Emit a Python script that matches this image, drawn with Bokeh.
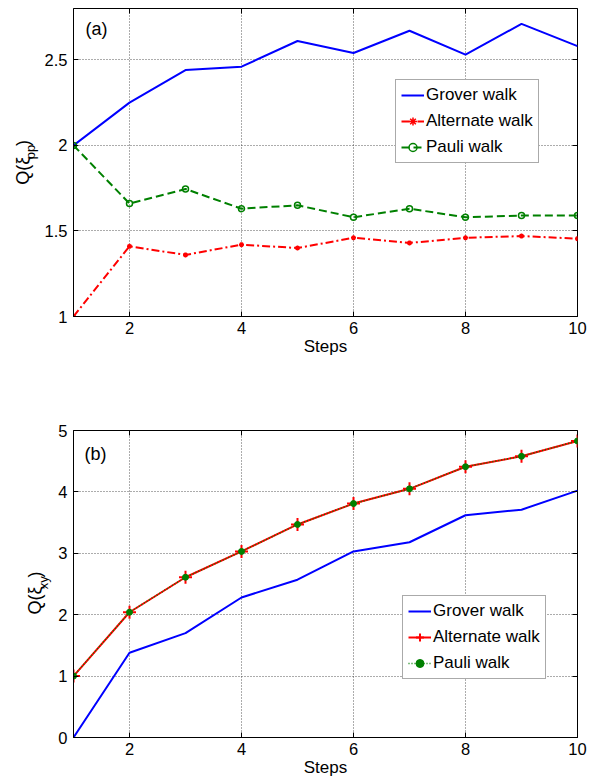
import math
from bokeh.plotting import figure
from bokeh.layouts import column, row
from bokeh.models import Range1d, FixedTicker, Label, LinearAxis
from bokeh.core.properties import value
from bokeh.embed import file_html
from bokeh.resources import INLINE

# ---------------- data ----------------
steps = [1, 2, 3, 4, 5, 6, 7, 8, 9, 10]

grover_a = [2.00, 2.25, 2.44, 2.46, 2.61, 2.54, 2.67, 2.53, 2.71, 2.58]
alternate_a = [1.00, 1.41, 1.36, 1.42, 1.40, 1.46, 1.43, 1.46, 1.47, 1.455]
pauli_a = [2.00, 1.66, 1.745, 1.63, 1.65, 1.58, 1.63, 1.58, 1.59, 1.59]

grover_b = [0.00, 1.38, 1.70, 2.28, 2.57, 3.03, 3.18, 3.62, 3.71, 4.02]
alternate_b = [1.00, 2.04, 2.61, 3.03, 3.47, 3.81, 4.05, 4.41, 4.58, 4.83]
pauli_b = [1.00, 2.04, 2.61, 3.03, 3.47, 3.81, 4.05, 4.41, 4.58, 4.83]

xticks = [2, 4, 6, 8, 10]
xtick_labels = ["2", "4", "6", "8", "10"]
yticks_a = [1, 1.5, 2, 2.5]
ytick_labels_a = ["1", "1.5", "2", "2.5"]
yticks_b = [0, 1, 2, 3, 4, 5]
ytick_labels_b = ["0", "1", "2", "3", "4", "5"]

series_names = ["Grover walk", "Alternate walk", "Pauli walk"]
ylabel_a = ["Q(\u03be", "pp", ")"]
ylabel_b = ["Q(\u03be", "xy", ")"]

FONT = "Liberation Sans"
BLUE = "#0000ff"
RED = "#ff0000"
GREEN = "#008000"


def style(p, yticks, ylabels):
    p.background_fill_color = "white"
    p.border_fill_color = "white"
    p.outline_line_color = "black"
    p.outline_line_width = 1
    for ax in (p.xaxis[0], p.yaxis[0]):
        ax.axis_line_color = "black"
        ax.major_tick_line_color = "black"
        ax.major_tick_in = 5
        ax.major_tick_out = 0
        ax.minor_tick_line_color = None
        ax.major_label_text_font = FONT
        ax.major_label_text_font_size = "16.5px"
        ax.major_label_text_color = "black"
        ax.axis_label_text_font = FONT
        ax.axis_label_text_font_size = "17px"
        ax.axis_label_text_font_style = "normal"
        ax.axis_label_text_color = "black"
    p.xaxis[0].ticker = FixedTicker(ticks=xticks)
    p.xaxis[0].major_label_overrides = {float(t): s for t, s in zip(xticks, xtick_labels)}
    p.yaxis[0].ticker = FixedTicker(ticks=yticks)
    p.yaxis[0].major_label_overrides = {float(t): s for t, s in zip(yticks, ylabels)}
    p.xaxis[0].major_label_standoff = 5
    p.yaxis[0].major_label_standoff = 6
    p.xaxis[0].axis_label = "Steps"
    p.xaxis[0].axis_label_standoff = 0
    p.xgrid[0].ticker = FixedTicker(ticks=xticks)
    p.ygrid[0].ticker = FixedTicker(ticks=yticks)
    for g in (p.xgrid[0], p.ygrid[0]):
        g.grid_line_color = "#222222"
        g.grid_line_alpha = 0.75
        g.grid_line_dash = "1 2"
        g.grid_line_width = 1
    # inward ticks on the top and right edges (box on)
    for side, ticks in (("above", xticks), ("right", yticks)):
        ax = LinearAxis(ticker=FixedTicker(ticks=ticks),
                        major_label_overrides={float(t): "" for t in ticks},
                        major_label_text_font_size="1px", major_label_standoff=0,
                        axis_line_color=None, major_tick_line_color="black",
                        major_tick_in=5, major_tick_out=0, minor_tick_line_color=None)
        p.add_layout(ax, side)


def legend_style(p, loc):
    lg = p.legend[0]
    lg.location = loc
    lg.label_text_font = FONT
    lg.label_text_font_size = "17px"
    lg.label_text_color = "black"
    lg.glyph_width = 23
    lg.glyph_height = 20
    lg.label_height = 20
    lg.label_standoff = 2
    lg.spacing = 6
    lg.padding = 5
    lg.margin = 0
    lg.border_line_color = "#555555"
    lg.border_line_width = 1
    lg.background_fill_color = "white"
    lg.background_fill_alpha = 1


def label_fig(width, height, pieces, xs, ys):
    # narrow strip that carries the rotated y label "Q(xi_sub)", each piece centred
    q = figure(width=width, height=height, x_range=Range1d(0, width), y_range=Range1d(0, height),
               output_backend="svg", toolbar_location=None, title=None,
               x_axis_location=None, y_axis_location=None,
               min_border_left=0, min_border_right=0, min_border_top=0, min_border_bottom=0)
    q.grid.visible = False
    q.outline_line_color = None
    q.border_fill_color = "white"
    q.background_fill_color = "white"
    sizes = ["18px", "13px", "18px"]
    for txt, x, y, s in zip(pieces, xs, ys, sizes):
        q.text(x=[x], y=[y], text=[txt], angle=math.pi / 2, text_font=value(FONT),
               text_font_size=value(s), text_align="center", text_baseline="middle",
               text_color="black")
    return q


# ---------------- panel (a) ----------------
LW_A = 40
p1 = figure(width=592 - LW_A, height=380, x_range=Range1d(1, 10), y_range=Range1d(1, 2.8),
            output_backend="svg", toolbar_location=None,
            min_border_left=73 - LW_A, min_border_right=15, min_border_top=8, min_border_bottom=64)
style(p1, yticks_a, ytick_labels_a)

p1.line(steps, grover_a, line_color=BLUE, line_width=2, legend_label=series_names[0])
p1.line(steps, alternate_a, line_color=RED, line_width=2, line_dash="8 3 2 3",
        legend_label=series_names[1])
p1.scatter(steps, alternate_a, marker="asterisk", size=5, line_color=RED, line_width=1.5,
           legend_label=series_names[1])
p1.line(steps, pauli_a, line_color=GREEN, line_width=2, line_dash="8 4",
        legend_label=series_names[2])
p1.scatter(steps, pauli_a, marker="circle", size=6, line_color=GREEN, line_width=1.5,
           fill_alpha=0, legend_label=series_names[2])
legend_style(p1, (322, 153))

p1.add_layout(Label(x=1, y=2.8, x_offset=12, y_offset=-20, text="(a)", text_font=FONT,
                    text_font_size="18px", text_baseline="middle", text_align="left",
                    text_color="black"))
lab1 = label_fig(LW_A, 380, ylabel_a, [22, 30, 22], [180, 203, 214])

# ---------------- panel (b) ----------------
LW_B = 52
p2 = figure(width=592 - LW_B, height=403, x_range=Range1d(1, 10), y_range=Range1d(0, 5),
            output_backend="svg", toolbar_location=None,
            min_border_left=73 - LW_B, min_border_right=15, min_border_top=50, min_border_bottom=46)
style(p2, yticks_b, ytick_labels_b)

p2.line(steps, grover_b, line_color=BLUE, line_width=2, legend_label=series_names[0])
p2.line(steps, alternate_b, line_color=RED, line_width=2, legend_label=series_names[1])
p2.scatter(steps, alternate_b, marker="cross", size=13, line_color=RED, line_width=2,
           legend_label=series_names[1])
p2.line(steps, pauli_b, line_color=GREEN, line_width=1.5, line_dash="1 2",
        legend_label=series_names[2])
p2.scatter(steps, pauli_b, marker="circle", size=6, line_color=GREEN, fill_color=GREEN,
           legend_label=series_names[2])
legend_style(p2, (329, 58))

p2.add_layout(Label(x=1, y=5, x_offset=11, y_offset=-23, text="(b)", text_font=FONT,
                    text_font_size="18px", text_baseline="middle", text_align="left",
                    text_color="black"))
lab2 = label_fig(LW_B, 403, ylabel_b, [34, 43, 34], [180, 203, 214])

layout = column(row(lab1, p1, spacing=0), row(lab2, p2, spacing=0), spacing=0)
open("out.html", "w").write(file_html(layout, INLINE))
